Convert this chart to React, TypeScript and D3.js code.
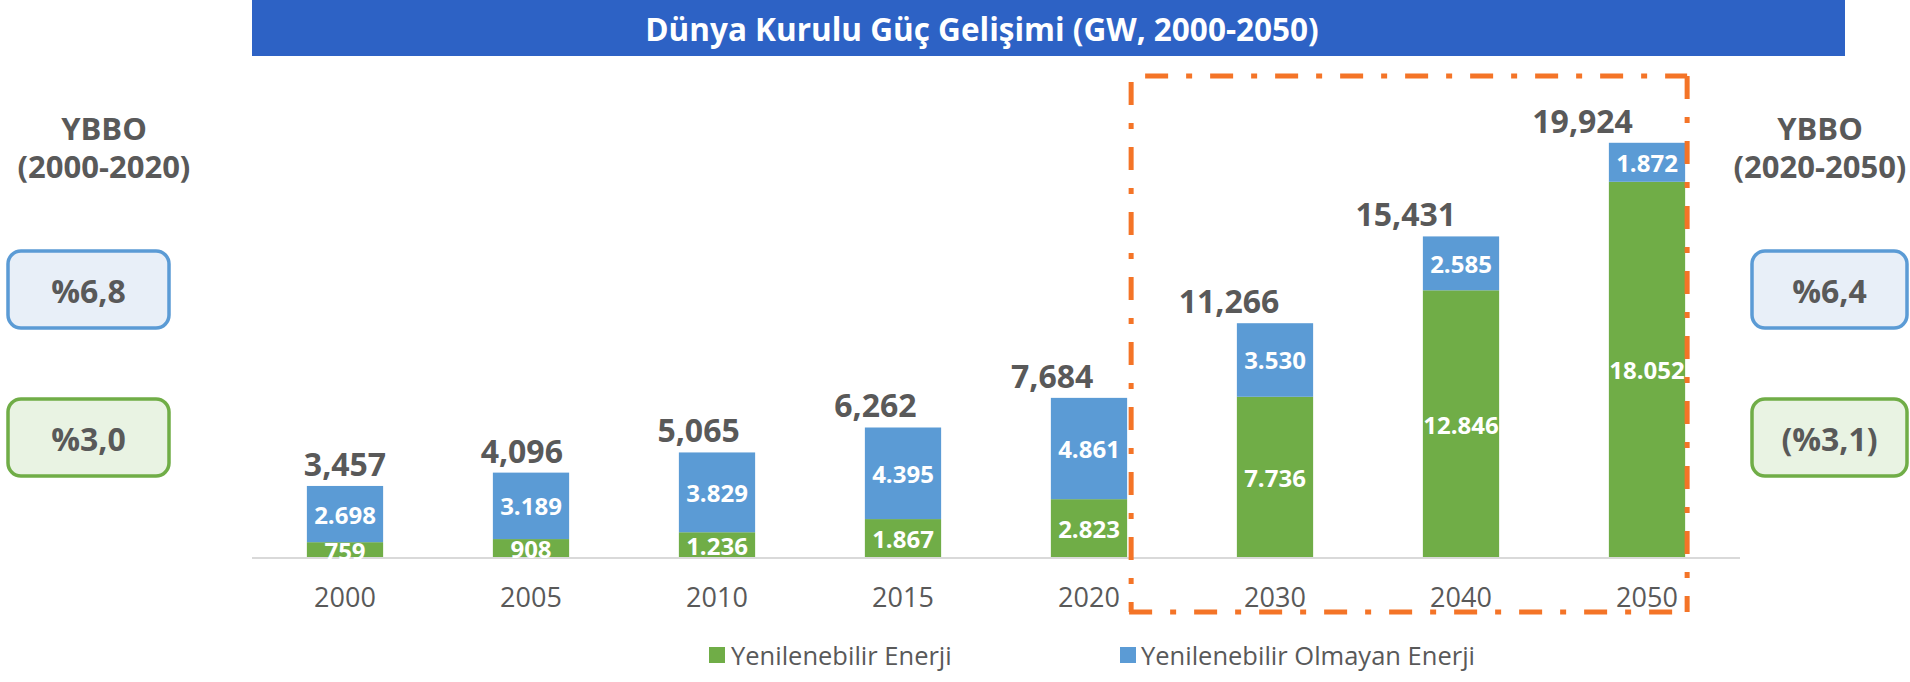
import React from "react";
import * as d3 from "d3";

const categories = ["2000", "2005", "2010", "2015", "2020", "2030", "2040", "2050"];
const renewable = [759, 908, 1236, 1867, 2823, 7736, 12846, 18052];
const nonRenewable = [2698, 3189, 3829, 4395, 4861, 3530, 2585, 1872];
const totals = [3457, 4096, 5065, 6262, 7684, 11266, 15431, 19924];
const seriesNames = ["Yenilenebilir Enerji", "Yenilenebilir Olmayan Enerji"];
const title = "Dünya Kurulu Güç Gelişimi (GW, 2000-2050)";
const leftHeader = ["YBBO", "(2000-2020)"];
const rightHeader = ["YBBO", "(2020-2050)"];
const leftRates = ["%6,8", "%3,0"];
const rightRates = ["%6,4", "(%3,1)"];

const W = 1910;
const H = 682;
const GREEN = "#70AD47";
const BLUE = "#5B9BD5";
const GRAY = "#595959";
const ORANGE = "#F47427";
const FONT = "'Open Sans', 'Noto Sans', sans-serif";

export default function App() {
  const x = d3.scaleBand<string>().domain(categories).range([252, 1740]).paddingInner(0.59).paddingOuter(0.295);
  const y = d3.scaleLinear().domain([0, 25000]).range([558, 37]);
  const bw = x.bandwidth();
  const fmtDot = (v: number) => d3.format(",")(v).replace(/,/g, ".");
  const fmtComma = d3.format(",");

  const stacked = categories.map((c, i) => ({
    c,
    i,
    r: renewable[i],
    n: nonRenewable[i],
  }));

  const dashL = x("2020")! + bw + 4;
  const dashR = x("2050")! + bw + 2;

  const box = (bx: number, by: number, bwid: number, stroke: string, fill: string, text: string, key: string) => (
    <g key={key}>
      <rect x={bx} y={by} width={bwid} height={77} rx={13} ry={13} fill={fill} stroke={stroke} strokeWidth={3.5} />
      <text x={bx + bwid / 2} y={by + 39} textAnchor="middle" dominantBaseline="central" fontFamily={FONT} fontWeight={700} fontSize={32} fill={GRAY}>
        {text}
      </text>
    </g>
  );

  return (
    <svg width={W} height={H} style={{ position: "absolute", left: 0, top: 0, background: "#fff" }}>
      {/* title bar */}
      <rect x={252} y={0} width={1593} height={56} fill="#2D62C5" />
      <text x={982} y={28} textAnchor="middle" dominantBaseline="central" fontFamily={FONT} fontWeight={700} fontSize={31.5} fill="#fff">
        {title}
      </text>

      {/* side headers */}
      {[
        { cx: 104, lines: leftHeader },
        { cx: 1820, lines: rightHeader },
      ].map((h, k) => (
        <g key={"h" + k}>
          {h.lines.map((t, j) => (
            <text key={j} x={h.cx} y={140 + j * 38} textAnchor="middle" fontFamily={FONT} fontWeight={700} fontSize={31} fill={GRAY}>
              {t}
            </text>
          ))}
        </g>
      ))}

      {box(8, 251, 161, BLUE, "#E8EFF8", leftRates[0], "lb")}
      {box(8, 399, 161, GREEN, "#E9F3E3", leftRates[1], "lg")}
      {box(1752, 251, 155, BLUE, "#E8EFF8", rightRates[0], "rb")}
      {box(1752, 399, 155, GREEN, "#E9F3E3", rightRates[1], "rg")}

      {/* bars */}
      {stacked.map((d) => {
        const x0 = x(d.c)!;
        const yR = y(d.r);
        const yT = y(d.r + d.n);
        return (
          <g key={d.c}>
            <rect x={x0} y={yR} width={bw} height={y(0) - yR} fill={GREEN} />
            <rect x={x0} y={yT} width={bw} height={yR - yT} fill={BLUE} />
          </g>
        );
      })}

      {/* axis line */}
      <line x1={252} x2={1740} y1={y(0)} y2={y(0)} stroke="#D9D9D9" strokeWidth={2} />

      {/* segment labels */}
      {stacked.map((d) => {
        const cx = x(d.c)! + bw / 2;
        return (
          <g key={"l" + d.c} fontFamily={FONT} fontWeight={700} fontSize={24} fill="#fff" textAnchor="middle">
            <text x={cx} y={(y(0) + y(d.r)) / 2} dominantBaseline="central">
              {fmtDot(d.r)}
            </text>
            <text x={cx} y={(y(d.r) + y(d.r + d.n)) / 2} dominantBaseline="central">
              {fmtDot(d.n)}
            </text>
          </g>
        );
      })}

      {/* totals */}
      {categories.map((c, i) => (
        <text key={"t" + c} x={x(c)! + bw / 2 - i * 9.2} y={y(totals[i]) - 10} textAnchor="middle" fontFamily={FONT} fontWeight={700} fontSize={32} fill={GRAY}>
          {fmtComma(totals[i])}
        </text>
      ))}

      {/* x tick labels */}
      {categories.map((c) => (
        <text key={"x" + c} x={x(c)! + bw / 2} y={596} textAnchor="middle" dominantBaseline="central" fontFamily={FONT} fontSize={27} fill={GRAY}>
          {c}
        </text>
      ))}

      {/* dashed highlight */}
      <g stroke={ORANGE} strokeWidth={5} strokeDasharray="23 18 6 18" fill="none">
        <line x1={dashL + 14} x2={dashR} y1={76} y2={76} />
        <line x1={dashL} x2={dashL} y1={82} y2={612} />
        <line x1={dashR} x2={dashR} y1={76} y2={612} />
        <line x1={dashL - 2} x2={dashR} y1={612} y2={612} />
      </g>

      {/* legend */}
      <rect x={709} y={647} width={16} height={16} fill={GREEN} />
      <text x={731} y={655} dominantBaseline="central" fontFamily={FONT} fontSize={25.5} fill={GRAY}>
        {seriesNames[0]}
      </text>
      <rect x={1120} y={647} width={16} height={16} fill={BLUE} />
      <text x={1141} y={655} dominantBaseline="central" fontFamily={FONT} fontSize={25.5} fill={GRAY}>
        {seriesNames[1]}
      </text>
    </svg>
  );
}
